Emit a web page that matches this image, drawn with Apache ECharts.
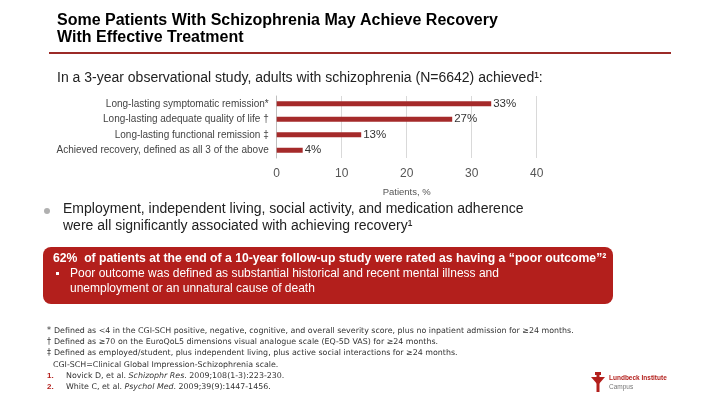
<!DOCTYPE html>
<html>
<head>
<meta charset="utf-8">
<script src="https://cdn.jsdelivr.net/npm/echarts@6/dist/echarts.min.js"></script>
<style>
html,body{margin:0;padding:0;background:#fff;}
#chart{width:720px;height:405px;}
</style>
</head>
<body>
<div id="chart"></div>
<script>
var categories = [
  'Long-lasting symptomatic remission*',
  'Long-lasting adequate quality of life \u2020',
  'Long-lasting functional remission \u2021',
  'Achieved recovery, defined as all 3 of the above'
];
var values = [33, 27, 13, 4];
var axisTicks = [0, 10, 20, 30, 40];

var titleLines = ['Some Patients With Schizophrenia May Achieve Recovery', 'With Effective Treatment'];
var subtitle = 'In a 3-year observational study, adults with schizophrenia (N=6642) achieved\u00b9:';
var bulletLines = ['Employment, independent living, social activity, and medication adherence', 'were all significantly associated with achieving recovery\u00b9'];
var boxHead = '62%  of patients at the end of a 10-year follow-up study were rated as having a \u201cpoor outcome\u201d\u00b2';
var boxLines = ['Poor outcome was defined as substantial historical and recent mental illness and', 'unemployment or an unnatural cause of death'];
var footnotes = [
  ['*', 'Defined as <4 in the CGI-SCH positive, negative, cognitive, and overall severity score, plus no inpatient admission for \u226524 months.'],
  ['\u2020', 'Defined as \u226570 on the EuroQoL5 dimensions visual analogue scale (EQ-5D VAS) for \u226524 months.'],
  ['\u2021', 'Defined as employed/student, plus independent living, plus active social interactions for \u226524 months.'],
  ['', 'CGI-SCH=Clinical Global Impression-Schizophrenia scale.']
];
var refs = [
  ['1.', 'Novick D, et al. ', 'Schizophr Res', '. 2009;108(1-3):223-230.'],
  ['2.', 'White C, et al. ', 'Psychol Med', '. 2009;39(9):1447-1456.']
];

var FONT = '"Liberation Sans", Arial, sans-serif';
var SMALL = '"DejaVu Sans", sans-serif';
var chart = echarts.init(document.getElementById('chart'), null, {renderer: 'canvas'});

var graphics = [];
// title
titleLines.forEach(function (t, i) {
  graphics.push({type: 'text', left: 57, top: 13 + i * 17,
    style: {text: t, font: 'bold 16px ' + FONT, fill: '#000'}});
});
graphics.push({type: 'rect', shape: {x: 49, y: 52, width: 622, height: 2}, style: {fill: '#9b2a27'}});
graphics.push({type: 'text', left: 57, top: 71,
  style: {text: subtitle, font: '14px ' + FONT, fill: '#222'}});
// bullet
graphics.push({type: 'circle', shape: {cx: 47, cy: 211, r: 3}, style: {fill: '#b0b0b0'}});
bulletLines.forEach(function (t, i) {
  graphics.push({type: 'text', left: 63, top: 202 + i * 17,
    style: {text: t, font: '14px ' + FONT, fill: '#222'}});
});
// red box
graphics.push({type: 'rect', shape: {x: 43, y: 247, width: 570, height: 57, r: 8}, style: {fill: '#b31f1c'}});
graphics.push({type: 'text', left: 53, top: 253,
  style: {text: boxHead, font: 'bold 12.2px ' + FONT, fill: '#fff'}});
graphics.push({type: 'rect', shape: {x: 56, y: 272, width: 3, height: 3}, style: {fill: '#fff'}});
boxLines.forEach(function (t, i) {
  graphics.push({type: 'text', left: 70, top: 268 + i * 15,
    style: {text: t, font: '12px ' + FONT, fill: '#fff'}});
});
// footnotes
footnotes.forEach(function (f, i) {
  var y = 327 + i * 11.2;
  if (f[0]) graphics.push({type: 'text', left: 47, top: y, style: {text: f[0], font: '8px ' + SMALL, fill: '#333'}});
  graphics.push({type: 'text', left: f[0] ? 54 : 53, top: y, style: {text: f[1], font: '7.9px ' + SMALL, fill: '#333'}});
});
refs.forEach(function (r, i) {
  var y = 372 + i * 11.2;
  graphics.push({type: 'text', left: 47, top: y, style: {text: r[0], font: 'bold 8px ' + FONT, fill: '#b31f1c'}});
  graphics.push({type: 'text', left: 66, top: y, style: {
    text: '{a|' + r[1] + '}{i|' + r[2] + '}{a|' + r[3] + '}',
    rich: {a: {font: '7.9px ' + SMALL, fill: '#333'}, i: {font: 'italic 7.9px ' + SMALL, fill: '#333'}}}});
});
// logo
graphics.push({type: 'polygon', shape: {points: [[591, 377], [605, 377], [598, 385]]}, style: {fill: '#b31f1c'}});
graphics.push({type: 'rect', shape: {x: 596.5, y: 372, width: 3, height: 20}, style: {fill: '#b31f1c'}});
graphics.push({type: 'rect', shape: {x: 595, y: 372, width: 6, height: 3}, style: {fill: '#b31f1c'}});
graphics.push({type: 'text', left: 609, top: 375, style: {text: 'Lundbeck Institute', font: 'bold 6.5px ' + FONT, fill: '#b31f1c'}});
graphics.push({type: 'text', left: 609, top: 384, style: {text: 'Campus', font: '6.5px ' + FONT, fill: '#777'}});

chart.setOption({
  animation: false,
  backgroundColor: '#fff',
  grid: {left: 276.7, right: 183.3, top: 96, bottom: 247, containLabel: false},
  xAxis: {
    type: 'value', min: axisTicks[0], max: axisTicks[axisTicks.length - 1], interval: 10,
    name: 'Patients, %', nameLocation: 'middle', nameGap: 29,
    nameTextStyle: {fontFamily: FONT, fontSize: 9.5, color: '#555'},
    axisLine: {show: false}, axisTick: {show: false},
    axisLabel: {fontFamily: FONT, fontSize: 12, color: '#555', margin: 10},
    splitLine: {show: true, lineStyle: {color: '#d9d9d9', width: 1}}
  },
  yAxis: {
    type: 'category', data: categories, inverse: true,
    axisLine: {show: true, lineStyle: {color: '#bfbfbf'}}, axisTick: {show: false},
    axisLabel: {fontFamily: FONT, fontSize: 10, color: '#444', margin: 8}
  },
  series: [{
    type: 'bar', data: values, barWidth: 5,
    itemStyle: {color: '#a52a2a'},
    label: {show: true, position: 'right', distance: 2, formatter: '{c}%',
      fontFamily: FONT, fontSize: 11.5, color: '#333'}
  }],
  graphic: graphics
});
</script>
</body>
</html>
